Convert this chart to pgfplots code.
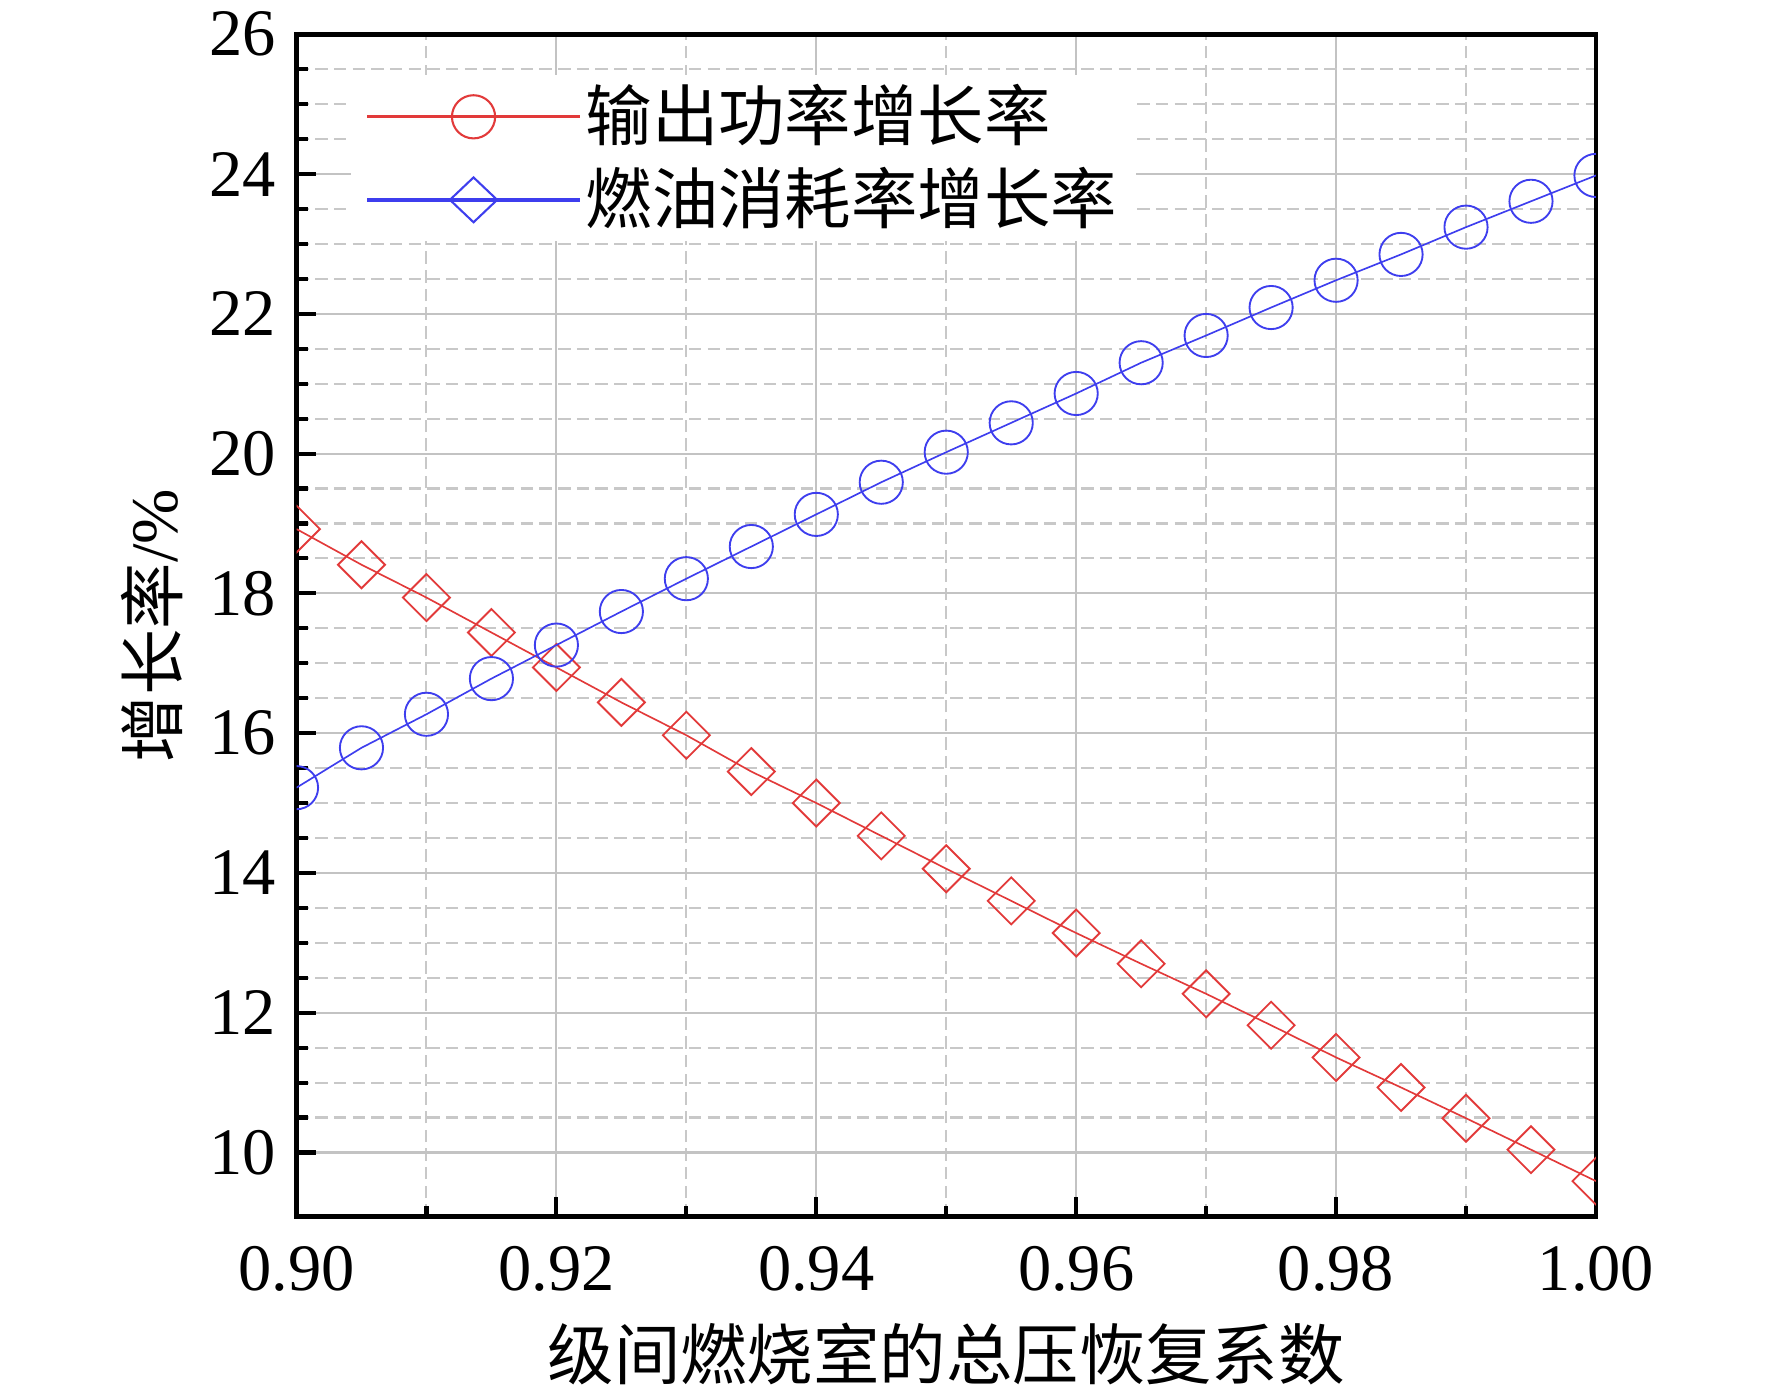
\documentclass[border=0pt]{standalone}
\usepackage{fontspec}
\setmainfont{Liberation Serif}
\newfontfamily\cjk{Noto Sans CJK SC}
\usepackage{pgfplots}
\pgfplotsset{compat=1.18}
\definecolor{myred}{RGB}{226,58,58}
\definecolor{myblue}{RGB}{62,62,238}
\definecolor{gridmaj}{RGB}{195,195,195}
\definecolor{gridmin}{RGB}{200,200,200}
\newcommand{\fs}{\fontsize{16}{19}\selectfont}
\begin{document}
\begin{tikzpicture}
\path[use as bounding box] (-2.51cm,-1.53cm) rectangle (12.49cm,10.30cm);
\begin{axis}[
  at={(0,0)}, anchor=south west,
  width=11cm, height=10.01cm, scale only axis,
  xmin=0.9, xmax=1.0, ymin=9.08, ymax=26,
  xtick={0.90,0.92,0.94,0.96,0.98,1.00},
  minor x tick num=1,
  ytick={10,12,14,16,18,20,22,24,26},
  minor y tick num=3,
  tick align=inside, tick pos=left,
  major tick length=4.8pt, minor tick length=2.7pt,
  tick style={black, line width=1pt},
  axis line style={line width=1.1pt},
  grid=both,
  major grid style={gridmaj, line width=0.5pt, solid},
  minor grid style={gridmin, line width=0.5pt, dash pattern=on 3pt off 1.5pt},
  /pgf/number format/assume math mode=true,
  tick label style={font=\fs},
  xticklabel style={/pgf/number format/fixed, /pgf/number format/fixed zerofill, /pgf/number format/precision=2, yshift=-3.5pt},
  yticklabel style={xshift=-1.5pt},
  xlabel={\cjk 级间燃烧室的总压恢复系数},
  ylabel={{\cjk 增长率}/\%},
  label style={font=\fs},
  xlabel style={at={(axis description cs:0.5,0)}, anchor=center, yshift=-33pt},
  ylabel style={at={(axis description cs:0,0.5)}, anchor=center, yshift=34.7pt},
  clip marker paths=true,
  legend style={at={(axis description cs:0.041,0.966)}, anchor=north west, draw=none, fill=white,
    font=\fs\cjk, inner xsep=3.6pt, inner ysep=1pt, row sep=2pt,
    nodes={inner sep=1pt, text height=13.6pt, text depth=2.4pt}},
  legend cell align=left,
]
\addplot[myred, line width=0.4pt, mark=square, mark size=4.0pt,
  mark options={rotate=45, line width=0.45pt, fill=none, solid},
  legend image code/.code={
    \draw[myred, line width=0.8pt] (0cm,0cm) -- (1.8cm,0cm);
    \draw[myred, line width=0.5pt] (0.9cm,0cm) circle (5.2pt);}]
coordinates {
(0.900,18.92) (0.905,18.41) (0.910,17.94) (0.915,17.44) (0.920,16.94)
(0.925,16.44) (0.930,15.97) (0.935,15.45) (0.940,15.00) (0.945,14.53)
(0.950,14.06) (0.955,13.60) (0.960,13.14) (0.965,12.70) (0.970,12.27)
(0.975,11.82) (0.980,11.36) (0.985,10.93) (0.990,10.49) (0.995,10.04)
(1.000,9.59)};
\addlegendentry{输出功率增长率}
\addplot[myblue, line width=0.4pt, mark=o, mark size=5.2pt,
  mark options={line width=0.45pt, solid},
  legend image code/.code={
    \draw[myblue, line width=0.8pt] (0cm,0cm) -- (1.8cm,0cm);
    \draw[myblue, line width=0.5pt] (0.9cm,5.4pt) -- (1.1cm,0pt) -- (0.9cm,-5.4pt) -- (0.7cm,0pt) -- cycle;}]
coordinates {
(0.900,15.22) (0.905,15.79) (0.910,16.27) (0.915,16.78) (0.920,17.26)
(0.925,17.74) (0.930,18.21) (0.935,18.67) (0.940,19.13) (0.945,19.59)
(0.950,20.02) (0.955,20.44) (0.960,20.86) (0.965,21.30) (0.970,21.69)
(0.975,22.09) (0.980,22.48) (0.985,22.85) (0.990,23.24) (0.995,23.61)
(1.000,23.98)};
\addlegendentry{燃油消耗率增长率}
\end{axis}
\end{tikzpicture}
\end{document}
